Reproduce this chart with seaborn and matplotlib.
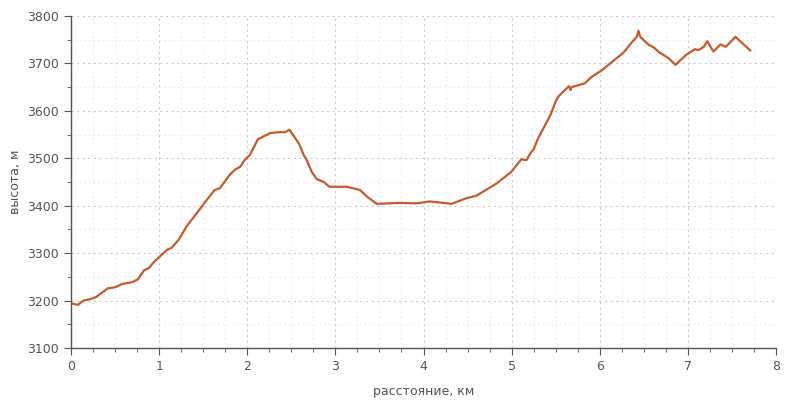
"""
Elevation profile: высота vs расстояние.
"""

import numpy as np
import pandas as pd
import matplotlib.pyplot as plt
from matplotlib.ticker import MultipleLocator
import seaborn as sns

distance_km = [
    0.0, 0.08, 0.14, 0.22, 0.29, 0.42, 0.5, 0.58, 0.7, 0.76, 0.83, 0.88, 0.95,
    1.09, 1.14, 1.22, 1.31, 1.43, 1.5, 1.54, 1.63, 1.69, 1.8, 1.86, 1.92, 1.97,
    2.03, 2.12, 2.26, 2.35, 2.43, 2.48, 2.59, 2.64, 2.67, 2.73, 2.79, 2.87, 2.93,
    3.13, 3.28, 3.36, 3.47, 3.73, 3.92, 4.07, 4.32, 4.49, 4.6, 4.83, 5.0, 5.11,
    5.17, 5.21, 5.25, 5.3, 5.44, 5.5, 5.53, 5.6, 5.65, 5.67, 5.68, 5.83, 5.91,
    6.02, 6.27, 6.31, 6.37, 6.42, 6.44, 6.46, 6.55, 6.61, 6.68, 6.78, 6.86, 6.98,
    7.08, 7.12, 7.18, 7.22, 7.29, 7.37, 7.43, 7.54, 7.71,
]
elevation_m = [
    3194, 3191, 3200, 3203, 3208, 3226, 3228, 3235, 3239, 3245, 3264, 3268, 3283,
    3307, 3311, 3328, 3356, 3385, 3402, 3412, 3433, 3437, 3465, 3476, 3482, 3496,
    3507, 3540, 3553, 3555, 3555, 3560, 3530, 3507, 3498, 3472, 3456, 3450, 3440,
    3440, 3433, 3419, 3404, 3406, 3405, 3409, 3404, 3416, 3421, 3447, 3472, 3498,
    3496, 3510, 3519, 3542, 3591, 3620, 3630, 3643, 3652, 3644, 3650, 3658, 3672,
    3685, 3723, 3732, 3746, 3756, 3769, 3756, 3740, 3734, 3723, 3711, 3697, 3718,
    3730, 3728, 3735, 3747, 3725, 3740, 3735, 3756, 3727,
]

TEXT = "#555555"
LINE = "#c85a2a"

sns.set_style("ticks")
plt.rcParams["font.family"] = ["DejaVu Sans"]

df = pd.DataFrame({"distance": distance_km, "elevation": elevation_m})

fig = plt.figure(figsize=(8, 4), dpi=100)
ax = fig.add_axes([0.08875, 0.13, 0.88125, 0.83])

sns.lineplot(data=df, x="distance", y="elevation", ax=ax, color=LINE,
             linewidth=1.6, sort=False)

ax.set_xlim(0, 8)
ax.set_ylim(3100, 3800)
ax.xaxis.set_major_locator(MultipleLocator(1))
ax.xaxis.set_minor_locator(MultipleLocator(0.25))
ax.yaxis.set_major_locator(MultipleLocator(100))
ax.yaxis.set_minor_locator(MultipleLocator(50))

ax.grid(which="major", color="#cccccc", linestyle=(0, (2, 3)), linewidth=0.8)
ax.grid(which="minor", color="#e6e6e6", linestyle=(0, (1, 3)), linewidth=0.8)
ax.set_axisbelow(True)

for side in ["top", "right"]:
    ax.spines[side].set_visible(False)
for side in ["left", "bottom"]:
    ax.spines[side].set_color(TEXT)
    ax.spines[side].set_linewidth(1)

ax.tick_params(which="major", length=5, color=TEXT, labelcolor=TEXT, labelsize=9)
ax.tick_params(which="minor", length=3, color=TEXT)

ax.set_xlabel("расстояние, км", color=TEXT, fontsize=9, labelpad=9)
ax.set_ylabel("высота, м", color=TEXT, fontsize=9, labelpad=4)

fig.savefig("out.png", dpi=100)
